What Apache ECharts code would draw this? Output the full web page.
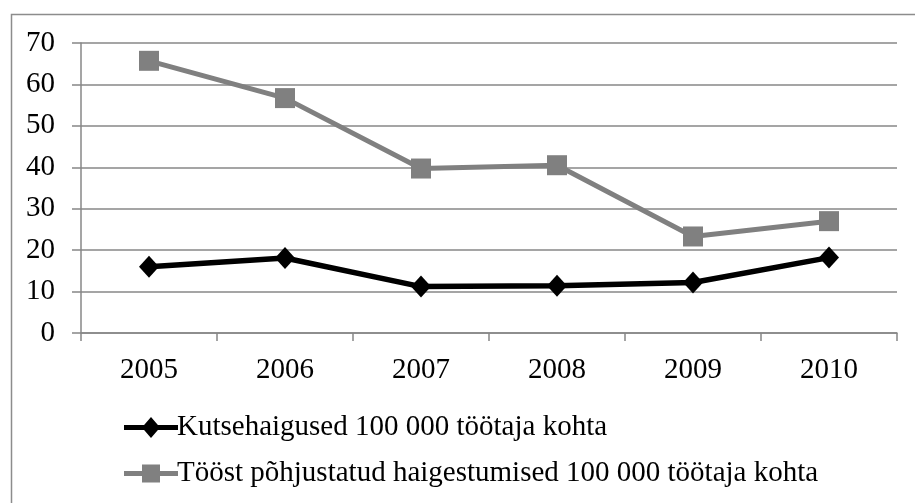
<!DOCTYPE html>
<html>
<head>
<meta charset="utf-8">
<style>
  html, body { margin: 0; padding: 0; background: #fff; }
  #chart { width: 915px; height: 503px; }
</style>
<script src="https://cdn.jsdelivr.net/npm/echarts@6/dist/echarts.min.js"></script>
</head>
<body>
<div id="chart"></div>
<script>
// Years on the category axis
const years = ['2005', '2006', '2007', '2008', '2009', '2010'];
// Occupational diseases per 100 000 workers
const kutsehaigused = [16.0, 18.1, 11.2, 11.4, 12.2, 18.2];
// Work-related illnesses per 100 000 workers
const haigestumised = [65.7, 56.7, 39.7, 40.5, 23.3, 27.0];
// Series names shown in the legend
const seriesNames = [
  'Kutsehaigused 100 000 töötaja kohta',
  'Tööst põhjustatud haigestumised 100 000 töötaja kohta'
];

const FONT = '"Liberation Serif", "Times New Roman", serif';
const FONT_SIZE = 29;
const AXIS_GRAY = '#878787';

// Legend icons: a thick line with the series marker in the middle (54 x 21 box)
const ICON_DIAMOND = 'path://M0,8 H20.1 L27,0 L33.9,8 H54 V13 H33.9 L27,21 L20.1,13 H0 Z';
const ICON_SQUARE = 'path://M0,8 H18 V1.5 H36 V8 H54 V13 H36 V19.5 H18 V13 H0 Z';

const chart = echarts.init(document.getElementById('chart'), null, { renderer: 'canvas' });

chart.setOption({
  backgroundColor: '#ffffff',
  animation: false,
  graphic: [{
    type: 'rect',
    left: 9, top: 12,
    shape: { width: 920, height: 500 },
    style: { fill: 'none', stroke: '#8c8c8c', lineWidth: 1.5 },
    silent: true
  }],
  grid: { left: 81, right: 18, top: 43, bottom: 170 },
  legend: {
    orient: 'vertical',
    left: 119,
    top: 408,
    itemGap: 17,
    itemWidth: 54,
    itemHeight: 21,
    textStyle: { fontFamily: FONT, fontSize: FONT_SIZE, color: '#000', padding: [0, 0, 0, -6] },
    data: [
      { name: seriesNames[0], icon: ICON_DIAMOND, itemStyle: { color: '#000' } },
      { name: seriesNames[1], icon: ICON_SQUARE, itemStyle: { color: '#808080' } }
    ]
  },
  xAxis: {
    type: 'category',
    data: years,
    boundaryGap: true,
    axisLine: { lineStyle: { color: AXIS_GRAY, width: 1.5 } },
    axisTick: { show: true, length: 8, lineStyle: { color: AXIS_GRAY, width: 1.5 } },
    axisLabel: { fontFamily: FONT, fontSize: FONT_SIZE, color: '#000', margin: 23 },
    splitLine: { show: false }
  },
  yAxis: {
    type: 'value',
    min: 0, max: 70, interval: 10,
    axisLine: { show: true, lineStyle: { color: AXIS_GRAY, width: 1.5 } },
    axisTick: { show: true, length: 9, lineStyle: { color: AXIS_GRAY, width: 1.5 } },
    axisLabel: { fontFamily: FONT, fontSize: FONT_SIZE, color: '#000', margin: 26 },
    splitLine: { show: true, lineStyle: { color: AXIS_GRAY, width: 1.5 } }
  },
  series: [
    {
      name: seriesNames[0],
      type: 'line',
      data: kutsehaigused,
      symbol: 'diamond',
      symbolSize: [20, 22],
      lineStyle: { color: '#000', width: 5.5 },
      itemStyle: { color: '#000' },
      z: 3
    },
    {
      name: seriesNames[1],
      type: 'line',
      data: haigestumised,
      symbol: 'rect',
      symbolSize: 20,
      lineStyle: { color: '#808080', width: 5 },
      itemStyle: { color: '#808080' },
      z: 2
    }
  ]
});
</script>
</body>
</html>
